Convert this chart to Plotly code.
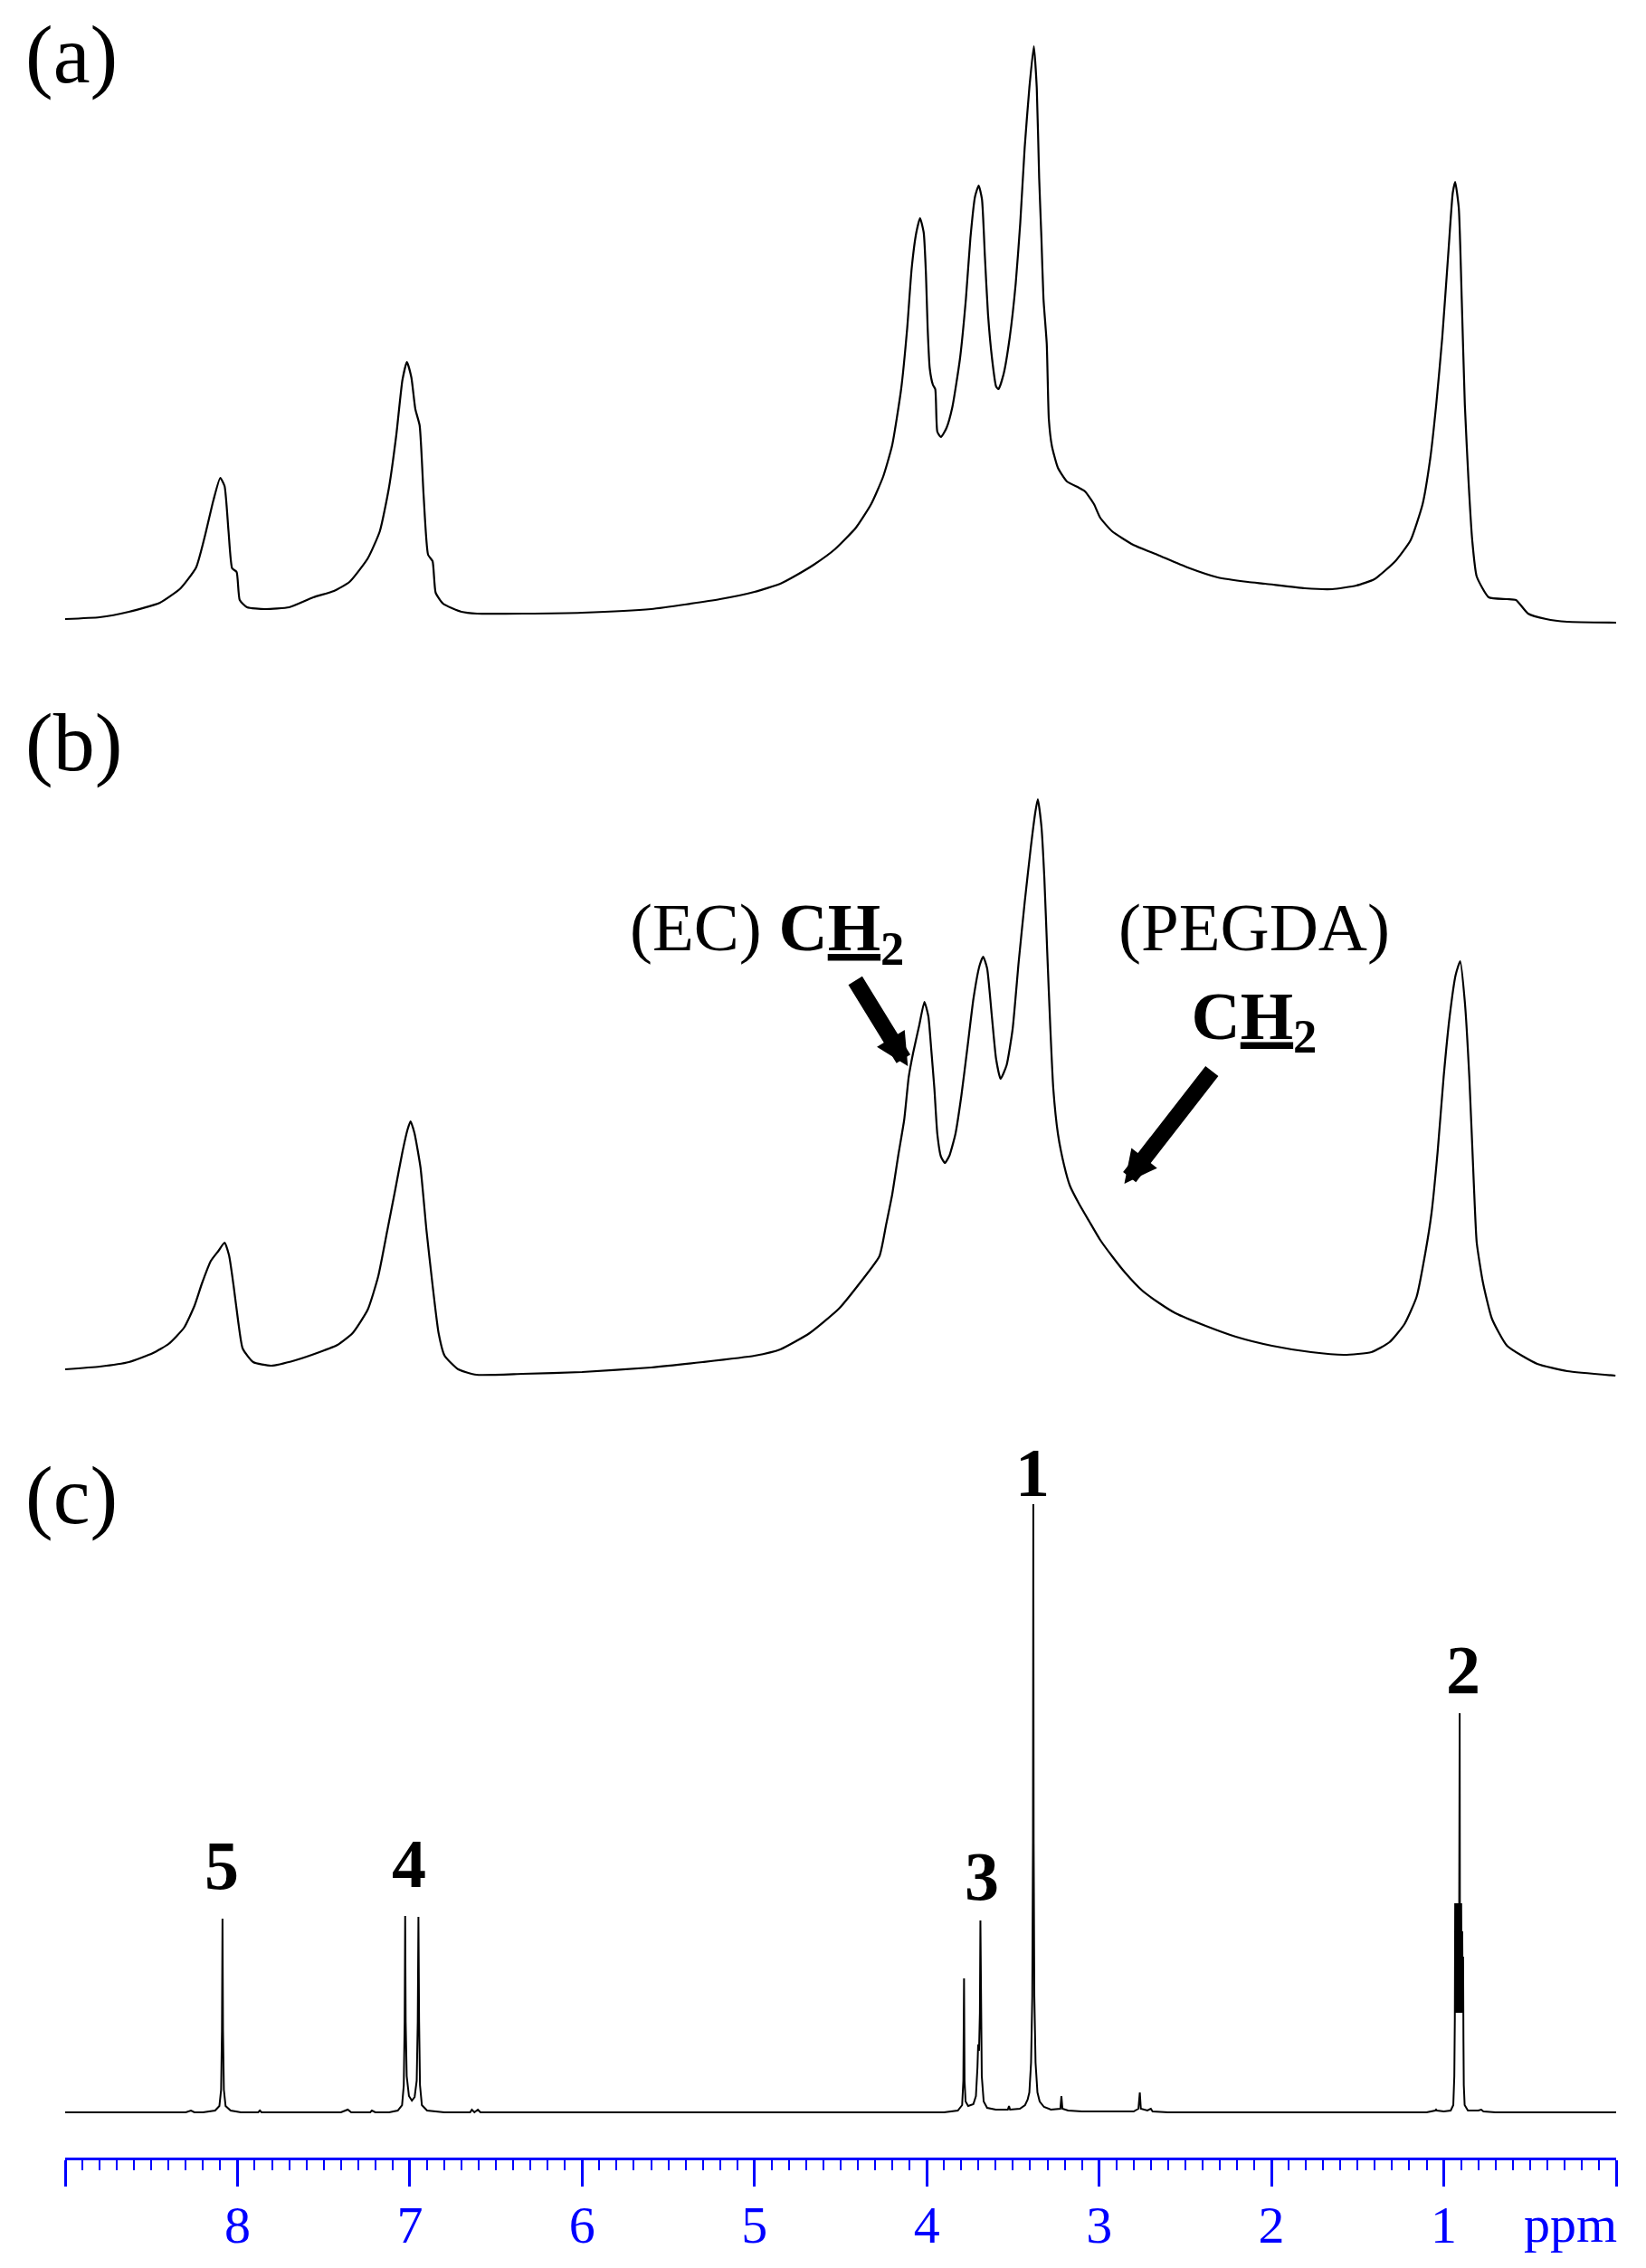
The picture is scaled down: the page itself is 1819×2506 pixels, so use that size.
import plotly.graph_objects as go

W, H = 1819, 2506

# ---------------- data ----------------
# Panel (a): chemical shift (ppm) and intensity (a.u.)
ppm_a = [9.00, 8.80, 8.63, 8.45, 8.33, 8.24, 8.19, 8.14, 8.10, 8.075, 8.052, 8.031, 8.005, 7.987,
         7.944, 7.84, 7.70, 7.56, 7.44, 7.35, 7.244, 7.174, 7.122, 7.078, 7.043, 7.017, 6.991,
         6.968, 6.943, 6.920, 6.894, 6.868, 6.850, 6.807, 6.70, 6.61, 6.34, 6.00, 5.60, 5.20,
         5.00, 4.85, 4.761, 4.656, 4.534, 4.411, 4.323, 4.254, 4.201, 4.149, 4.114, 4.088, 4.061,
         4.039, 4.018, 4.005, 3.995, 3.983, 3.965, 3.951, 3.939, 3.918, 3.886, 3.852, 3.808,
         3.773, 3.747, 3.720, 3.699, 3.680, 3.663, 3.645, 3.621, 3.598, 3.584, 3.554, 3.519,
         3.484, 3.458, 3.432, 3.405, 3.379, 3.362, 3.348, 3.335, 3.323, 3.304, 3.292, 3.274,
         3.239, 3.187, 3.117, 3.082, 3.030, 2.994, 2.925, 2.802, 2.662, 2.487, 2.312, 2.137,
         2.036, 1.806, 1.648, 1.508, 1.403, 1.281, 1.193, 1.123, 1.079, 1.044, 1.009, 0.974,
         0.948, 0.934, 0.913, 0.896, 0.878, 0.857, 0.835, 0.809, 0.739, 0.633, 0.581, 0.511,
         0.406, 0.284, 0.00]
int_a = [16, 18, 24, 34, 50, 73, 107, 147, 172, 163, 113, 72, 68, 37,
         29, 27, 29, 40, 47, 57, 83, 113, 160, 220, 280, 300, 283,
         248, 230, 153, 87, 80, 45, 33, 24, 22, 22, 23, 27, 38,
         46, 55, 64, 76, 93, 117, 143, 173, 208, 270, 337, 403, 443,
         459, 443, 397, 337, 293, 275, 270, 223, 217, 227, 250, 303,
         370, 437, 483, 495, 480, 417, 353, 303, 273, 270, 287, 327,
         387, 453, 537, 603, 649, 603, 503, 437, 370, 320, 237, 207,
         183, 168, 161, 157, 143, 128, 113, 98, 87, 73, 62, 57,
         55, 50, 49, 53, 60, 80, 103, 143, 193, 253, 327, 420,
         487, 499, 470, 370, 253, 170, 103, 63, 40, 38, 37, 22,
         16, 13, 12]

# Panel (b)
ppm_b = [9.00, 8.80, 8.63, 8.49, 8.40, 8.31, 8.25, 8.206, 8.154, 8.110, 8.075, 8.049, 8.023,
         7.996, 7.970, 7.909, 7.804, 7.664, 7.524, 7.419, 7.332, 7.244, 7.183, 7.131, 7.087,
         7.043, 7.013, 6.996, 6.973, 6.938, 6.903, 6.868, 6.833, 6.798, 6.719, 6.614, 6.344,
         6.00, 5.60, 5.30, 5.00, 4.85, 4.68, 4.51, 4.39, 4.275, 4.236, 4.201, 4.166, 4.131, 4.105,
         4.079, 4.044, 4.014, 3.991, 3.974, 3.956, 3.939, 3.918, 3.895, 3.869, 3.834, 3.799,
         3.764, 3.729, 3.694, 3.673, 3.650, 3.624, 3.598, 3.572, 3.537, 3.502, 3.467, 3.432,
         3.397, 3.370, 3.356, 3.335, 3.318, 3.301, 3.283, 3.266, 3.239, 3.204, 3.170, 3.117,
         3.056, 2.994, 2.925, 2.85, 2.75, 2.65, 2.557, 2.382, 2.207, 1.997, 1.770, 1.578,
         1.420, 1.315, 1.228, 1.158, 1.106, 1.071, 1.036, 1.001, 0.966, 0.931, 0.905, 0.878,
         0.852, 0.826, 0.809, 0.773, 0.721, 0.633, 0.458, 0.284, 0.004]
int_b = [17, 20, 25, 35, 45, 63, 87, 112, 137, 148, 157, 143, 110,
         70, 40, 25, 21, 27, 36, 44, 57, 83, 120, 170, 213,
         257, 282, 291, 278, 240, 170, 110, 57, 32, 17, 11, 12,
         14, 19, 25, 32, 39, 57, 84, 112, 142, 177, 210, 253, 293, 340,
         367, 397, 423, 407, 370, 327, 277, 252, 245, 253, 277, 320,
         373, 427, 463, 473, 460, 410, 360, 338, 353, 393, 467, 533,
         593, 633, 647, 617, 560, 477, 393, 327, 277, 243, 220, 200,
         180, 160, 142, 124, 104, 90, 79, 65, 53, 43, 36, 33,
         36, 47, 67, 97, 147, 190, 257, 340, 407, 453, 468, 423,
         340, 223, 157, 113, 73, 43, 23, 15, 10]

# Panel (c)
ppm_c = [9.00, 8.30, 8.27, 8.25, 8.20, 8.13, 8.105, 8.095, 8.090, 8.087, 8.084, 8.079, 8.069,
         8.04, 7.98, 7.88, 7.87, 7.86, 7.40, 7.36, 7.34, 7.23, 7.22, 7.20, 7.12, 7.07, 7.045,
         7.035, 7.030, 7.027, 7.024, 7.018, 7.005, 6.988, 6.972, 6.960, 6.954, 6.950, 6.946,
         6.941, 6.930, 6.90, 6.80, 6.65, 6.64, 6.625, 6.605, 6.59, 3.90, 3.82, 3.795, 3.788,
         3.784, 3.781, 3.775, 3.76, 3.73, 3.715, 3.706, 3.702, 3.697, 3.692, 3.689, 3.686,
         3.681, 3.670, 3.650, 3.60, 3.53, 3.523, 3.517, 3.46, 3.43, 3.415, 3.405, 3.395, 3.388,
         3.384, 3.382, 3.380, 3.376, 3.369, 3.358, 3.345, 3.32, 3.28, 3.225, 3.219, 3.213,
         3.18, 3.10, 2.80, 2.772, 2.764, 2.758, 2.72, 2.70, 2.69, 2.60, 1.10, 1.05, 1.045,
         1.04, 1.00, 0.96, 0.945, 0.939, 0.936, 0.934, 0.932, 0.930, 0.928, 0.926, 0.924,
         0.922, 0.920, 0.918, 0.916, 0.914, 0.912, 0.910, 0.908, 0.906, 0.904, 0.902, 0.899,
         0.896, 0.893, 0.890, 0.888, 0.886, 0.884, 0.879, 0.86, 0.80, 0.783, 0.77, 0.70, 0.00]
int_c = [0, 0, 2, 0, 0, 2, 7, 25, 90, 214, 90, 25, 7,
         2, 0, 0, 2, 0, 0, 3, 0, 0, 2, 0, 0, 2, 8,
         30, 100, 217, 100, 40, 18, 13, 17, 35, 100, 216, 100,
         30, 8, 2, 0, 0, 3, 0, 3, 0, 0, 2, 8, 35,
         148, 35, 12, 7, 9, 18, 50, 75, 68, 110, 212, 110,
         40, 12, 5, 3, 3, 7, 3, 4, 8, 14, 22, 55, 128,
         300, 672, 300, 128, 55, 22, 12, 6, 3, 4, 18, 4,
         2, 1, 1, 4, 22, 4, 2, 4, 1, 0, 0, 2, 3,
         2, 1, 2, 8, 40, 104, 231, 110, 231, 110, 231, 110,
         231, 110, 231, 110, 231, 110, 231, 441, 110, 231, 110, 231,
         110, 200, 110, 172, 80, 30, 8, 2, 2, 3, 1, 0, 0]

major_ticks = [0, 1, 2, 3, 4, 5, 6, 7, 8, 9]
tick_text = ["", "1", "2", "3", "4", "5", "6", "7", "8", ""]
peak_labels = ["1", "2", "3", "4", "5"]
panel_labels = ["(a)", "(b)", "(c)"]

# ---------------- figure ----------------
def px(p):
    return p / W

def py(p):
    return 1 - p / H

BLUE = "#0000ff"
SERIF = "Liberation Serif, Times New Roman, serif"

fig = go.Figure()
fig.add_trace(go.Scatter(x=ppm_a, y=int_a, mode="lines", xaxis="x", yaxis="y",
                         line=dict(color="black", width=2.2, shape="spline", smoothing=0.5),
                         hoverinfo="skip"))
fig.add_trace(go.Scatter(x=ppm_b, y=int_b, mode="lines", xaxis="x", yaxis="y2",
                         line=dict(color="black", width=2.2, shape="spline", smoothing=0.5),
                         hoverinfo="skip"))
fig.add_trace(go.Scatter(x=ppm_c, y=int_c, mode="lines", xaxis="x", yaxis="y3",
                         line=dict(color="black", width=2), hoverinfo="skip"))

annotations = []
# panel labels
for lab, yc in zip(panel_labels, [60, 820, 1652]):
    annotations.append(dict(text=lab, x=px(26), y=py(yc), xref="paper", yref="paper",
                            xanchor="left", yanchor="middle", showarrow=False,
                            font=dict(family=SERIF, size=92, color="black")))
# peak labels for (c)
for lab, (xc, yc) in zip(peak_labels, [(1141, 1627), (1617, 1845), (1085, 2073),
                                        (452, 2059), (245, 2061)]):
    annotations.append(dict(text="<b>%s</b>" % lab, x=px(xc), y=py(yc), xref="paper", yref="paper",
                            xanchor="center", yanchor="middle", showarrow=False,
                            font=dict(family=SERIF, size=76, color="black")))
# text labels in (b)
annotations.append(dict(text="(EC) <b>C<u>H</u><sub>2</sub></b>", x=px(694), y=py(1030),
                        xref="paper", yref="paper", xanchor="left", yanchor="middle",
                        showarrow=False, font=dict(family=SERIF, size=75, color="black")))
annotations.append(dict(text="(PEGDA)<br><b>C<u>H</u><sub>2</sub></b>", x=px(1386), y=py(1078),
                        xref="paper", yref="paper", xanchor="center", yanchor="middle",
                        align="center", showarrow=False,
                        font=dict(family=SERIF, size=75, color="black")))
# arrows in (b)
annotations.append(dict(text="", x=4.110, y=352, xref="x", yref="y2", ax=-59, ay=-96,
                        showarrow=True, arrowhead=2, arrowsize=0.4, arrowwidth=18,
                        arrowcolor="black", standoff=0))
annotations.append(dict(text="", x=2.854, y=222, xref="x", yref="y2", ax=98, ay=-126,
                        showarrow=True, arrowhead=2, arrowsize=0.4, arrowwidth=18,
                        arrowcolor="black", standoff=0))
# ppm unit label
annotations.append(dict(text="ppm", x=px(1735), y=py(2457), xref="paper", yref="paper",
                        xanchor="center", yanchor="middle", showarrow=False,
                        font=dict(family=SERIF, size=58, color=BLUE)))

fig.update_layout(
    width=W, height=H,
    margin=dict(l=0, r=0, t=0, b=0),
    paper_bgcolor="white", plot_bgcolor="rgba(0,0,0,0)",
    showlegend=False,
    xaxis=dict(domain=[px(72), px(1786)], range=[9, 0], autorange=False,
               anchor="free", position=py(2385),
               showline=True, linecolor=BLUE, linewidth=3,
               ticks="outside", ticklen=29, tickwidth=2.5, tickcolor=BLUE,
               tickmode="array", tickvals=major_ticks, ticktext=tick_text,
               tickfont=dict(family=SERIF, size=58, color=BLUE),
               ticklabelstandoff=-8,
               showgrid=False, zeroline=False,
               minor=dict(tickmode="linear", tick0=0, dtick=0.1, ticks="outside",
                          ticklen=11, tickwidth=2, tickcolor=BLUE, showgrid=False)),
    yaxis=dict(domain=[py(700), py(0)], range=[0, 700], visible=False, fixedrange=True),
    yaxis2=dict(domain=[py(1530), py(830)], range=[0, 700], visible=False, fixedrange=True),
    yaxis3=dict(domain=[py(2345), py(1645)], range=[-11, 689], visible=False, fixedrange=True),
    annotations=annotations,
)

fig.write_html("out.html", config={"displayModeBar": False},
               post_script="document.body.style.margin='0px';document.body.style.overflow='hidden';")
